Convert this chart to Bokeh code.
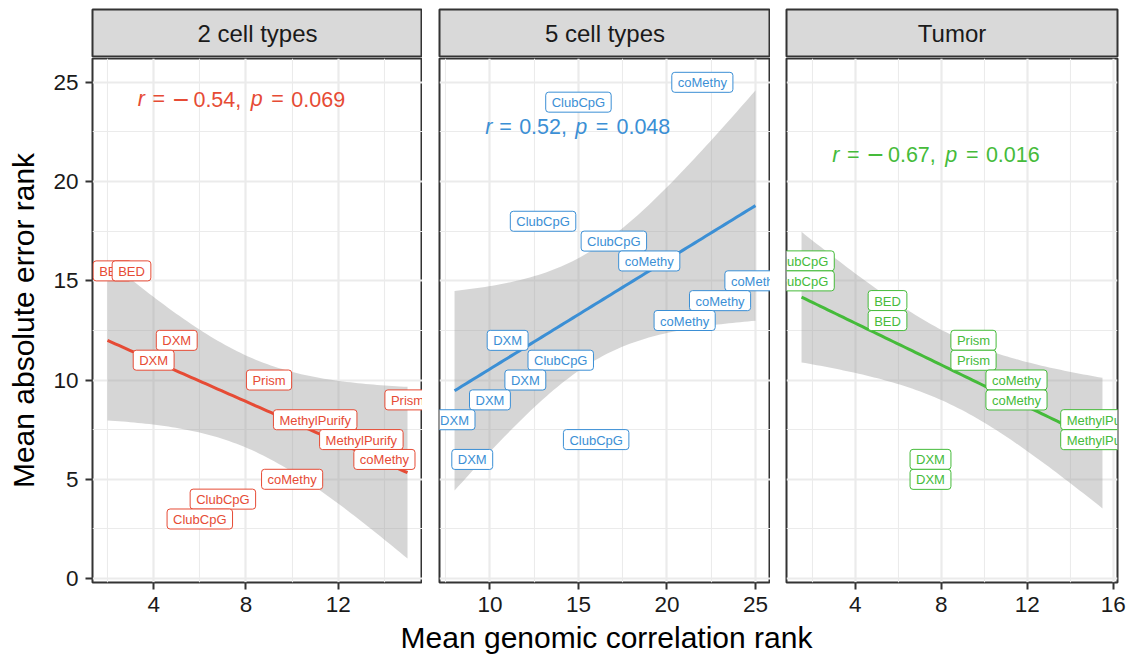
import numpy as np
from bokeh.plotting import figure
from bokeh.layouts import row, column
from bokeh.models import FixedTicker, Grid, ColumnDataSource
from bokeh.core.properties import value
from bokeh.embed import file_html
from bokeh.resources import INLINE

FONT = "Liberation Sans"

# ---------------- data ----------------
facets = ["2 cell types", "5 cell types", "Tumor"]
colors = ["#E64B35", "#3B8FD5", "#45BB3A"]

p1_method = ["BED", "BED", "DXM", "DXM", "Prism", "Prism", "MethylPurify", "MethylPurify",
             "coMethy", "coMethy", "ClubCpG", "ClubCpG"]
p1_x = [2, 2, 5, 4, 9, 15, 11, 13, 14, 10, 7, 6]
p1_y = [15.5, 15.5, 12, 11, 10, 9, 8, 7, 6, 5, 4, 3]

p2_method = ["coMethy", "ClubCpG", "ClubCpG", "ClubCpG", "coMethy", "coMethy", "coMethy", "coMethy",
             "DXM", "ClubCpG", "DXM", "DXM", "DXM", "ClubCpG", "DXM"]
p2_x = [22, 15, 13, 17, 19, 25, 23, 21, 11, 14, 12, 10, 8, 16, 9]
p2_y = [25, 24, 18, 17, 16, 15, 14, 13, 12, 11, 10, 9, 8, 7, 6]

p3_method = ["ClubCpG", "ClubCpG", "BED", "BED", "Prism", "Prism", "coMethy", "coMethy",
             "MethylPurify", "MethylPurify", "DXM", "DXM"]
p3_x = [1.5, 1.5, 5.5, 5.5, 9.5, 9.5, 11.5, 11.5, 15.5, 15.5, 7.5, 7.5]
p3_y = [15.5, 15.5, 13.5, 13.5, 11.5, 11.5, 9.5, 9.5, 7.5, 7.5, 5.5, 5.5]

r_text = ["\u22120.54,", "0.52,", "\u22120.67,"]
r_sign = [True, False, True]
p_text = ["0.069", "0.048", "0.016"]

x_ticks = [[4, 8, 12], [10, 15, 20, 25], [4, 8, 12, 16]]
x_minor = [[2, 6, 10, 14], [7.5, 12.5, 17.5, 22.5], [2, 6, 10, 14]]
y_ticks = [0, 5, 10, 15, 20, 25]
y_minor = [2.5, 7.5, 12.5, 17.5, 22.5]

# t quantiles (0.975) for the lm confidence band, df = n - 2
t975 = {10: 2.2281, 13: 2.1604}

# ---------------- layout / style ----------------
# label repel offsets in screen pixels (x right, y down)
p1_dx = [5, 24, 0, 0, 0, 0, 0, 0, 0, 0, 0, 0]
p1_dy = [0] * 12
p2_dx = [0] * 15
p2_dy = [0] * 15
p3_dx = [0] * 12
p3_dy = [-10, 10] * 6

x_ranges = [(1.35, 15.65), (7.15, 25.85), (0.8, 16.2)]
y_range = (-0.2, 26.2)
frame_w = [330, 331, 331]
border_l = [92, 17, 16]
border_r = [0, 0, 16]
frame_h = 524
ann_x = [3.31, 9.73, 2.93]
ann_y = [24.15, 22.75, 21.35]

GRID = "#EBEBEB"
DARK = "#333333"


def fit_band(x, y):
    x = np.asarray(x, float)
    y = np.asarray(y, float)
    n = len(x)
    b, a = np.polyfit(x, y, 1)
    xs = np.linspace(x.min(), x.max(), 80)
    yhat = a + b * xs
    resid = y - (a + b * x)
    s = np.sqrt((resid ** 2).sum() / (n - 2))
    se = s * np.sqrt(1.0 / n + (xs - x.mean()) ** 2 / ((x - x.mean()) ** 2).sum())
    t = t975[n - 2]
    return xs, yhat, yhat - t * se, yhat + t * se


def no_grid(f):
    for g in f.grid:
        g.visible = False


def make_strip(i):
    s = figure(frame_width=frame_w[i], frame_height=48, x_range=(0, 1), y_range=(0, 1),
               output_backend="svg", toolbar_location=None,
               x_axis_location=None, y_axis_location=None,
               min_border_left=border_l[i], min_border_right=border_r[i],
               min_border_top=9, min_border_bottom=0,
               background_fill_color="#D9D9D9", border_fill_color="white",
               outline_line_color=DARK, outline_line_width=2)
    no_grid(s)
    s.text(x=[0.5], y=[0.5], text=[facets[i]], text_align="center", text_baseline="middle",
           text_font=value(FONT), text_font_size="24px", text_color="#1A1A1A")
    return s


def make_panel(i, xd, yd, meth, dx, dy):
    c = colors[i]
    show_y = (i == 0)
    p = figure(frame_width=frame_w[i], frame_height=frame_h, x_range=x_ranges[i], y_range=y_range,
               output_backend="svg", toolbar_location=None,
               y_axis_location="left" if show_y else None,
               min_border_left=border_l[i], min_border_right=border_r[i],
               min_border_top=1, min_border_bottom=40,
               background_fill_color="white", border_fill_color="white",
               outline_line_color=DARK, outline_line_width=2)
    xt = FixedTicker(ticks=x_ticks[i], minor_ticks=x_minor[i])
    yt = FixedTicker(ticks=y_ticks, minor_ticks=y_minor)
    p.xaxis.ticker = xt
    p.xgrid.ticker = xt
    if show_y:
        p.yaxis.ticker = yt
        p.yaxis.axis_label = "Mean absolute error rank"
        p.yaxis.axis_label_text_font = FONT
        p.yaxis.axis_label_text_font_size = "30px"
        p.yaxis.axis_label_text_font_style = "normal"
        p.yaxis.axis_label_text_color = "black"
        p.yaxis.axis_label_standoff = 10
    if len(p.ygrid) == 0:
        p.add_layout(Grid(dimension=1, ticker=yt))
    else:
        p.ygrid.ticker = yt
    for g in p.grid:
        g.grid_line_color = GRID
        g.grid_line_width = 2.2
        g.minor_grid_line_color = GRID
        g.minor_grid_line_width = 1.1
    for ax in p.axis:
        ax.axis_line_color = None
        ax.major_tick_line_color = DARK
        ax.major_tick_line_width = 2
        ax.major_tick_out = 7
        ax.major_tick_in = 0
        ax.minor_tick_line_color = None
        ax.major_label_text_font = FONT
        ax.major_label_text_font_size = "22.5px"
        ax.major_label_text_color = "#1A1A1A"
        ax.major_label_standoff = 7

    xs, yhat, lo, hi = fit_band(xd, yd)
    p.varea(x=xs, y1=lo, y2=hi, fill_color="#999999", fill_alpha=0.4)
    p.line(x=xs, y=yhat, line_color=c, line_width=3)

    src = ColumnDataSource(dict(x=xd, y=yd, t=meth, dx=dx, dy=dy))
    p.text(x="x", y="y", text="t", x_offset="dx", y_offset="dy", source=src,
           text_align="center", text_baseline="middle",
           text_font=value(FONT), text_font_size="13px", text_color=c,
           background_fill_color="white", border_line_color=c, border_line_width=1,
           padding=dict(left=6, right=6, top=3, bottom=2), border_radius=3)

    # correlation annotation: r = ..., p = ...
    if r_sign[i]:
        pieces = [("r", 0, True, "21.5px"), ("=", 14.7, False, "21.5px"),
                  ("\u2212", 35.0, False, "28px"),
                  (r_text[i][1:], 55.7, False, "21.5px"), ("p", 113, True, "21.5px"),
                  ("=", 133.6, False, "21.5px"), (p_text[i], 153.6, False, "21.5px")]
    else:
        pieces = [("r", 0, True, "21.5px"), ("=", 14.0, False, "21.5px"),
                  (r_text[i], 34.0, False, "21.5px"), ("p", 90.2, True, "21.5px"),
                  ("=", 110.7, False, "21.5px"), (p_text[i], 131.3, False, "21.5px")]
    for txt, off, it, fs in pieces:
        p.text(x=[ann_x[i]], y=[ann_y[i]], text=[txt], x_offset=off,
               text_align="left", text_baseline="middle",
               text_font=value(FONT), text_font_size=fs, text_color=c,
               text_font_style="italic" if it else "normal")
    return p


panels = [
    make_panel(0, p1_x, p1_y, p1_method, p1_dx, p1_dy),
    make_panel(1, p2_x, p2_y, p2_method, p2_dx, p2_dy),
    make_panel(2, p3_x, p3_y, p3_method, p3_dx, p3_dy),
]
strips = [make_strip(i) for i in range(3)]

xl = figure(width=1133, height=32, x_range=(0, 1133), y_range=(0, 32),
            output_backend="svg", toolbar_location=None,
            x_axis_location=None, y_axis_location=None,
            min_border=0, outline_line_color=None,
            background_fill_color="white", border_fill_color="white")
no_grid(xl)
xl.text(x=[606], y=[17], text=["Mean genomic correlation rank"], text_align="center",
        text_baseline="middle", text_font=value(FONT), text_font_size="30px", text_color="black")

layout = column(row(*[column(strips[i], panels[i]) for i in range(3)]), xl)

open("out.html", "w").write(file_html(layout, INLINE))
